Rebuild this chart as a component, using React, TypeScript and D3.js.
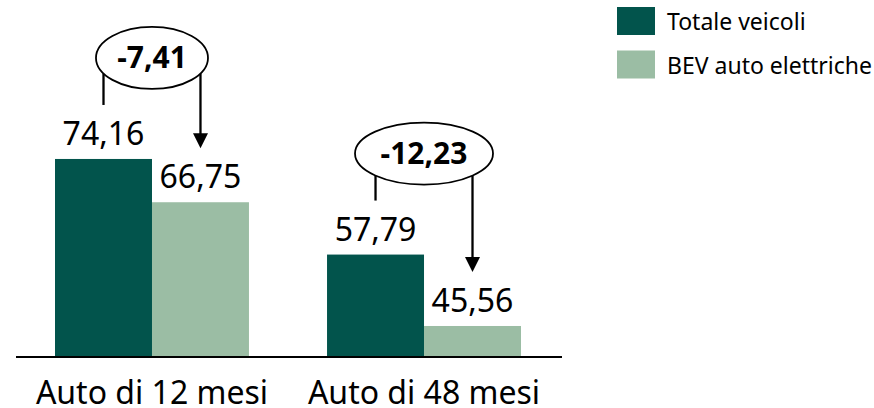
import React from 'react';
import * as d3 from 'd3';

const categories = ['Auto di 12 mesi', 'Auto di 48 mesi'];
const seriesNames = ['Totale veicoli', 'BEV auto elettriche'];
const totaleValues = [74.16, 57.79];
const bevValues = [66.75, 45.56];

const W = 874;
const H = 408;
const colors = ['#02544C', '#9BBDA4'];
const FONT = '"Noto Sans", sans-serif';
const annoRx = [56, 69];
const annoRy = 31;

const fmt = (v: number) => v.toFixed(2).replace('.', ',');

const baseY = 357;
const x0 = d3.scaleBand<string>().domain(categories).range([16, 560]).paddingInner(0.287).paddingOuter(0.1434);
const x1 = d3.scaleBand<string>().domain(seriesNames).range([0, x0.bandwidth()]);
const y = d3.scaleLinear().domain([40.25, 80]).range([baseY, baseY - 39.75 * 5.84]);

export default function App() {
  const seriesValues = [totaleValues, bevValues];
  return (
    <svg width={W} height={H} style={{ position: 'absolute', left: 0, top: 0, display: 'block', background: '#fff' }} fontFamily={FONT}>
      {categories.map((cat, i) => {
        const gx = x0(cat)!;
        return (
          <g key={cat}>
            {seriesNames.map((s, j) => {
              const v = seriesValues[j][i];
              const bx = gx + x1(s)!;
              return (
                <g key={s}>
                  <rect x={bx} y={y(v)} width={x1.bandwidth()} height={baseY - y(v)} fill={colors[j]} />
                  <text x={bx + x1.bandwidth() / 2} y={y(v) - 14} textAnchor="middle" fontSize={32} fill="#000">{fmt(v)}</text>
                </g>
              );
            })}
            <text x={gx + x0.bandwidth() / 2} y={404} textAnchor="middle" fontSize={32} fill="#000">{cat}</text>
          </g>
        );
      })}
      <line x1={16} x2={562} y1={baseY} y2={baseY} stroke="#000" strokeWidth={2} />
      {categories.map((cat, i) => {
        const gx = x0(cat)!;
        const tot = totaleValues[i];
        const bev = bevValues[i];
        const cx = gx + x0.bandwidth() / 2;
        const cy = y(Math.max(tot, bev)) - 101;
        const rx = annoRx[i];
        const xl = gx + x1(seriesNames[0])! + x1.bandwidth() / 2;
        const xr = gx + x1(seriesNames[1])! + x1.bandwidth() / 2;
        const yOn = (xx: number) => cy + annoRy * Math.sqrt(Math.max(0, 1 - ((xx - cx) / rx) ** 2));
        const leftEnd = y(tot) - 54;
        const tip = y(bev) - 54;
        return (
          <g key={'a' + cat}>
            <line x1={xl} x2={xl} y1={yOn(xl)} y2={leftEnd} stroke="#000" strokeWidth={2.3} />
            <line x1={xr} x2={xr} y1={yOn(xr)} y2={tip - 14} stroke="#000" strokeWidth={2.3} />
            <path d={`M${xr - 7.5},${tip - 15} L${xr + 7.5},${tip - 15} L${xr},${tip} Z`} fill="#000" />
            <ellipse cx={cx} cy={cy} rx={rx} ry={annoRy} fill="#fff" stroke="#000" strokeWidth={1.8} />
            <text x={cx} y={cy + 10.5} textAnchor="middle" fontSize={30} fontWeight="bold" fill="#000">{fmt(bev - tot)}</text>
          </g>
        );
      })}
      {seriesNames.map((s, j) => (
        <g key={'l' + s}>
          <rect x={617} y={7 + j * 43.5} width={38} height={28} fill={colors[j]} />
          <text x={667} y={30 + j * 43.5} fontSize={23} fill="#000">{s}</text>
        </g>
      ))}
    </svg>
  );
}
